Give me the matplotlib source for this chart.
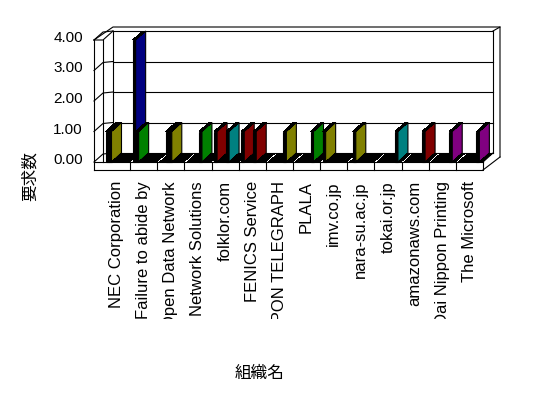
import matplotlib
matplotlib.use("Agg")
import matplotlib.pyplot as plt
from matplotlib.patches import Polygon
from matplotlib.transforms import Bbox, TransformedBbox

plt.rcParams['font.family'] = ['Liberation Sans', 'Noto Sans CJK JP']

# 組織名 (x軸カテゴリ)
categories = ["NEC Corporation", "Failure to abide by", "Open Data Network",
              "Network Solutions", "folklor.com", "FENICS Service",
              "NIPPON TELEGRAPH", "PLALA", "imv.co.jp", "nara-su.ac.jp",
              "tokai.or.jp", "amazonaws.com", "Dai Nippon Printing", "The Microsoft"]

# 各カテゴリ内の系列(8本)の要求数
slot_values = [
    [1, 1, 0, 0, 0, 0, 0, 0],
    [4, 1, 0, 0, 0, 0, 0, 0],
    [0, 0, 1, 1, 0, 0, 0, 0],
    [0, 0, 0, 0, 1, 0, 0, 0],
    [1, 0, 0, 0, 1, 0, 0, 0],
    [1, 0, 0, 0, 1, 0, 0, 0],
    [0, 0, 0, 0, 0, 1, 0, 0],
    [0, 0, 0, 0, 0, 1, 0, 0],
    [1, 0, 0, 0, 0, 0, 0, 0],
    [0, 1, 0, 0, 0, 0, 0, 0],
    [0, 0, 0, 0, 0, 0, 1, 0],
    [0, 0, 0, 0, 0, 0, 1, 0],
    [0, 0, 0, 0, 0, 0, 1, 0],
    [0, 0, 0, 0, 0, 0, 1, 0],
]
# 棒の色 (K黒 O黄土 N紺 G緑 M茶 T青緑 P紫, .はゼロ)
slot_colors = ["KO......", "NG......", "..KO....", "....G...", "M...T...",
               "M...M...", ".....O..", ".....G..", "O.......", ".O......",
               "......T.", "......M.", "......P.", "......P."]
palette = {'K': '#000000', 'O': '#808000', 'N': '#000080', 'G': '#008000',
           'M': '#800000', 'T': '#008080', 'P': '#800080'}
yticks = [0, 1, 2, 3, 4]

fig = plt.figure(figsize=(5.48, 3.98), dpi=100)
ax = fig.add_axes([103 / 548, (398 - 162) / 398, 380 / 548, 122 / 398])
n = len(categories)
ax.set_xlim(0, n)
ax.set_ylim(0, 4)
ax.axis('off')

PX = n / 380.0   # 1px in x
PY = 4 / 122.0   # 1px in y
DX, DY = 10 * PX, 9 * PY          # 奥行き
S0, SW = 2.5 * PX, 3 * PX         # 系列の開始位置と幅
LW = 0.8
kw = dict(clip_on=False, color='black', lw=LW)

def poly(pts, fc, z, lw=LW, aa=True):
    ax.add_patch(Polygon(pts, closed=True, facecolor=fc, edgecolor='black',
                         lw=lw, clip_on=False, zorder=z, antialiased=aa))

# 枠 (奥の壁・左の壁・床)
xl = -9 * PX
top_out = 4 + 13 * PY
right_out = n + 17 * PX
for v in yticks:
    ax.plot([DX, n + DX], [v + DY, v + DY], **kw, zorder=1)
    ax.plot([xl, 0, DX], [v, v + 8 * PY, v + DY], **kw, zorder=1)
ax.plot([xl, xl], [-8 * PY, 4], **kw, zorder=1)
ax.plot([0, 0], [0, 4], **kw, zorder=1)
ax.plot([DX, DX], [DY, 4 + DY], **kw, zorder=1)
ax.plot([n + DX, n + DX], [DY, 4 + DY], **kw, zorder=1)
ax.plot([xl, 0, DX], [4, 4, 4 + DY], **kw, zorder=1)
ax.plot([xl, DX, right_out, right_out], [4, top_out, top_out, 5 * PY], **kw, zorder=1)
ax.plot([n + DX, right_out], [4 + DY, top_out], **kw, zorder=1)
ax.plot([n, n + DX], [0, DY], **kw, zorder=1)
ax.plot([n, right_out], [-8 * PY, 5 * PY], **kw, zorder=1)
ax.plot([xl, n, n], [-8 * PY, -8 * PY, 0], **kw, zorder=1)
ax.plot([xl, n], [0, 0], **kw, zorder=1)
for i in range(1, n):
    ax.plot([i, i], [-8 * PY, 0], **kw, zorder=1)

# 棒 (左から順に描画)
z = 2
for i in range(n):
    for k, v in enumerate(slot_values[i]):
        x0 = i + S0 + k * SW
        c = slot_colors[i][k]
        if v > 0:
            ax.bar(x0, v, width=SW, align='edge', color='black',
                   edgecolor='black', lw=LW, clip_on=False, zorder=z)
            poly([(x0 + SW, 0), (x0 + SW + DX, DY), (x0 + SW + DX, v + DY),
                  (x0 + SW, v)], palette[c], z + 0.1)
        poly([(x0, v), (x0 + SW, v), (x0 + SW + DX, v + DY), (x0 + DX, v + DY)],
             'black', z + 0.2, lw=0, aa=False)
        z += 1

# 目盛ラベル
for v in yticks:
    ax.text(-20 * PX, v + 2 * PY, f"{v:.2f}", ha='right', va='center', fontsize=11)

clip = TransformedBbox(Bbox([[0, 79 / 398], [1, 1]]), fig.transFigure)
for i, name in enumerate(categories):
    t = ax.text(i + 0.5, -19 * PY, name, rotation=90, ha='center', va='top',
                fontsize=12, clip_on=True)
    t.set_clip_box(clip)

fig.text(30 / 548, 1 - 176 / 398, "要求数", rotation=90, ha='center', va='center',
         fontsize=12, family='Noto Sans CJK JP')
fig.text(260 / 548, 1 - 373 / 398, "組織名", ha='center', va='center',
         fontsize=12, family='Noto Sans CJK JP')

fig.savefig("out.png", dpi=100)
